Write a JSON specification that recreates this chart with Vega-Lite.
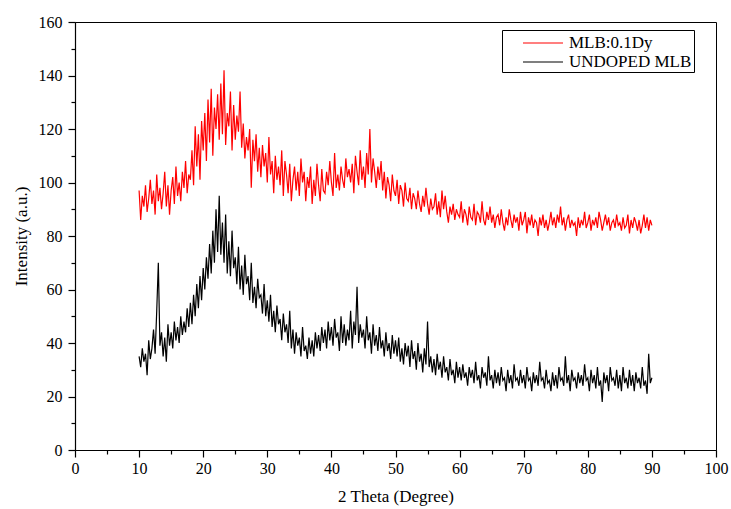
{
  "$schema": "https://vega.github.io/schema/vega-lite/v6.json",
  "width": 641,
  "height": 428,
  "autosize": {"type": "none"},
  "padding": {"left": 75, "top": 22, "right": 15, "bottom": 59},
  "config": {
    "view": {"stroke": "black", "strokeWidth": 1},
    "font": "Liberation Serif",
    "axis": {
      "labelFont": "Liberation Serif", "titleFont": "Liberation Serif",
      "labelFontSize": 16, "titleFontSize": 17, "titleFontWeight": "normal",
      "labelColor": "black", "titleColor": "black",
      "domainColor": "black", "tickColor": "black", "grid": false,
      "domainWidth": 1.2, "tickWidth": 1.2
    },
    "legend": {"labelFont": "Liberation Serif", "labelFontSize": 17, "labelColor": "black"}
  },
  "data": {"values": [
{"t":10,"r":97,"b":35},{"t":10.25,"r":86,"b":31},{"t":10.5,"r":95,"b":38},{"t":10.75,"r":91,"b":33},
{"t":11,"r":99,"b":36},{"t":11.25,"r":89,"b":28},{"t":11.5,"r":94,"b":41},{"t":11.75,"r":101,"b":34},
{"t":12,"r":92,"b":38},{"t":12.25,"r":97,"b":45},{"t":12.5,"r":88,"b":36},{"t":12.75,"r":103,"b":52},
{"t":13,"r":93,"b":70},{"t":13.25,"r":98,"b":39},{"t":13.5,"r":90,"b":44},{"t":13.75,"r":96,"b":35},
{"t":14,"r":104,"b":42},{"t":14.25,"r":91,"b":33},{"t":14.5,"r":99,"b":47},{"t":14.75,"r":88,"b":39},
{"t":15,"r":97,"b":44},{"t":15.25,"r":102,"b":38},{"t":15.5,"r":92,"b":48},{"t":15.75,"r":106,"b":41},
{"t":16,"r":95,"b":46},{"t":16.25,"r":100,"b":40},{"t":16.5,"r":93,"b":50},{"t":16.75,"r":104,"b":43},
{"t":17,"r":98,"b":48},{"t":17.25,"r":108,"b":44},{"t":17.5,"r":96,"b":53},{"t":17.75,"r":103,"b":46},
{"t":18,"r":101,"b":55},{"t":18.25,"r":112,"b":47},{"t":18.5,"r":99,"b":58},{"t":18.75,"r":121,"b":50},
{"t":19,"r":106,"b":62},{"t":19.25,"r":118,"b":53},{"t":19.5,"r":101,"b":65},{"t":19.75,"r":123,"b":56},
{"t":20,"r":112,"b":68},{"t":20.25,"r":126,"b":60},{"t":20.5,"r":108,"b":72},{"t":20.75,"r":131,"b":64},
{"t":21,"r":115,"b":77},{"t":21.25,"r":135,"b":66},{"t":21.5,"r":110,"b":82},{"t":21.75,"r":128,"b":70},
{"t":22,"r":120,"b":90},{"t":22.25,"r":133,"b":74},{"t":22.5,"r":116,"b":95},{"t":22.75,"r":137,"b":73},
{"t":23,"r":118,"b":85},{"t":23.25,"r":142,"b":70},{"t":23.5,"r":114,"b":88},{"t":23.75,"r":126,"b":66},
{"t":24,"r":121,"b":78},{"t":24.25,"r":134,"b":65},{"t":24.5,"r":112,"b":82},{"t":24.75,"r":129,"b":68},
{"t":25,"r":116,"b":72},{"t":25.25,"r":125,"b":62},{"t":25.5,"r":119,"b":76},{"t":25.75,"r":134,"b":60},
{"t":26,"r":113,"b":69},{"t":26.25,"r":122,"b":58},{"t":26.5,"r":109,"b":73},{"t":26.75,"r":117,"b":62},
{"t":27,"r":112,"b":65},{"t":27.25,"r":120,"b":56},{"t":27.5,"r":98,"b":70},{"t":27.75,"r":116,"b":55},
{"t":28,"r":108,"b":61},{"t":28.25,"r":118,"b":53},{"t":28.5,"r":104,"b":64},{"t":28.75,"r":113,"b":57},
{"t":29,"r":102,"b":58},{"t":29.25,"r":114,"b":51},{"t":29.5,"r":106,"b":62},{"t":29.75,"r":111,"b":50},
{"t":30,"r":100,"b":56},{"t":30.25,"r":117,"b":48},{"t":30.5,"r":103,"b":58},{"t":30.75,"r":108,"b":46},
{"t":31,"r":96,"b":52},{"t":31.25,"r":110,"b":44},{"t":31.5,"r":101,"b":54},{"t":31.75,"r":106,"b":47},
{"t":32,"r":99,"b":49},{"t":32.25,"r":112,"b":41},{"t":32.5,"r":95,"b":51},{"t":32.75,"r":108,"b":44},
{"t":33,"r":103,"b":47},{"t":33.25,"r":96,"b":40},{"t":33.5,"r":107,"b":52},{"t":33.75,"r":93,"b":38},
{"t":34,"r":101,"b":45},{"t":34.25,"r":106,"b":36},{"t":34.5,"r":97,"b":44},{"t":34.75,"r":104,"b":39},
{"t":35,"r":95,"b":42},{"t":35.25,"r":109,"b":35},{"t":35.5,"r":100,"b":46},{"t":35.75,"r":104,"b":37},
{"t":36,"r":93,"b":39},{"t":36.25,"r":102,"b":34},{"t":36.5,"r":98,"b":42},{"t":36.75,"r":106,"b":36},
{"t":37,"r":92,"b":41},{"t":37.25,"r":101,"b":35},{"t":37.5,"r":95,"b":44},{"t":37.75,"r":107,"b":38},
{"t":38,"r":99,"b":43},{"t":38.25,"r":93,"b":37},{"t":38.5,"r":105,"b":46},{"t":38.75,"r":97,"b":40},
{"t":39,"r":96,"b":45},{"t":39.25,"r":104,"b":38},{"t":39.5,"r":99,"b":48},{"t":39.75,"r":108,"b":41},
{"t":40,"r":100,"b":46},{"t":40.25,"r":95,"b":39},{"t":40.5,"r":111,"b":49},{"t":40.75,"r":98,"b":42},
{"t":41,"r":103,"b":44},{"t":41.25,"r":97,"b":37},{"t":41.5,"r":106,"b":50},{"t":41.75,"r":101,"b":40},
{"t":42,"r":98,"b":47},{"t":42.25,"r":109,"b":39},{"t":42.5,"r":102,"b":45},{"t":42.75,"r":105,"b":41},
{"t":43,"r":100,"b":52},{"t":43.25,"r":107,"b":38},{"t":43.5,"r":96,"b":48},{"t":43.75,"r":110,"b":43},
{"t":44,"r":104,"b":61},{"t":44.25,"r":99,"b":40},{"t":44.5,"r":112,"b":47},{"t":44.75,"r":101,"b":42},
{"t":45,"r":106,"b":45},{"t":45.25,"r":98,"b":38},{"t":45.5,"r":111,"b":50},{"t":45.75,"r":103,"b":41},
{"t":46,"r":120,"b":44},{"t":46.25,"r":100,"b":36},{"t":46.5,"r":109,"b":47},{"t":46.75,"r":104,"b":39},
{"t":47,"r":98,"b":43},{"t":47.25,"r":106,"b":37},{"t":47.5,"r":101,"b":46},{"t":47.75,"r":108,"b":38},
{"t":48,"r":97,"b":41},{"t":48.25,"r":104,"b":35},{"t":48.5,"r":94,"b":44},{"t":48.75,"r":102,"b":37},
{"t":49,"r":99,"b":40},{"t":49.25,"r":93,"b":34},{"t":49.5,"r":103,"b":43},{"t":49.75,"r":97,"b":36},
{"t":50,"r":95,"b":41},{"t":50.25,"r":101,"b":35},{"t":50.5,"r":92,"b":42},{"t":50.75,"r":99,"b":33},
{"t":51,"r":97,"b":38},{"t":51.25,"r":91,"b":32},{"t":51.5,"r":100,"b":40},{"t":51.75,"r":94,"b":35},
{"t":52,"r":93,"b":39},{"t":52.25,"r":98,"b":31},{"t":52.5,"r":90,"b":41},{"t":52.75,"r":96,"b":34},
{"t":53,"r":94,"b":37},{"t":53.25,"r":90,"b":30},{"t":53.5,"r":97,"b":40},{"t":53.75,"r":92,"b":33},
{"t":54,"r":89,"b":36},{"t":54.25,"r":95,"b":29},{"t":54.5,"r":91,"b":38},{"t":54.75,"r":98,"b":32},
{"t":55,"r":92,"b":48},{"t":55.25,"r":88,"b":31},{"t":55.5,"r":94,"b":35},{"t":55.75,"r":90,"b":29},
{"t":56,"r":91,"b":34},{"t":56.25,"r":96,"b":28},{"t":56.5,"r":88,"b":36},{"t":56.75,"r":93,"b":30},
{"t":57,"r":87,"b":33},{"t":57.25,"r":97,"b":27},{"t":57.5,"r":90,"b":35},{"t":57.75,"r":95,"b":29},
{"t":58,"r":89,"b":31},{"t":58.25,"r":85,"b":26},{"t":58.5,"r":91,"b":34},{"t":58.75,"r":88,"b":28},
{"t":59,"r":92,"b":30},{"t":59.25,"r":86,"b":25},{"t":59.5,"r":90,"b":33},{"t":59.75,"r":88,"b":27},
{"t":60,"r":87,"b":31},{"t":60.25,"r":93,"b":26},{"t":60.5,"r":85,"b":32},{"t":60.75,"r":90,"b":27},
{"t":61,"r":88,"b":29},{"t":61.25,"r":84,"b":24},{"t":61.5,"r":91,"b":31},{"t":61.75,"r":87,"b":27},
{"t":62,"r":86,"b":30},{"t":62.25,"r":92,"b":25},{"t":62.5,"r":84,"b":33},{"t":62.75,"r":89,"b":26},
{"t":63,"r":88,"b":28},{"t":63.25,"r":85,"b":23},{"t":63.5,"r":93,"b":31},{"t":63.75,"r":86,"b":27},
{"t":64,"r":84,"b":29},{"t":64.25,"r":89,"b":24},{"t":64.5,"r":86,"b":35},{"t":64.75,"r":91,"b":26},
{"t":65,"r":85,"b":28},{"t":65.25,"r":88,"b":23},{"t":65.5,"r":83,"b":30},{"t":65.75,"r":87,"b":25},
{"t":66,"r":88,"b":29},{"t":66.25,"r":84,"b":24},{"t":66.5,"r":90,"b":31},{"t":66.75,"r":85,"b":26},
{"t":67,"r":82,"b":27},{"t":67.25,"r":87,"b":22},{"t":67.5,"r":84,"b":30},{"t":67.75,"r":90,"b":25},
{"t":68,"r":86,"b":28},{"t":68.25,"r":83,"b":23},{"t":68.5,"r":88,"b":32},{"t":68.75,"r":85,"b":26},
{"t":69,"r":87,"b":27},{"t":69.25,"r":82,"b":24},{"t":69.5,"r":89,"b":30},{"t":69.75,"r":84,"b":25},
{"t":70,"r":86,"b":28},{"t":70.25,"r":89,"b":23},{"t":70.5,"r":81,"b":31},{"t":70.75,"r":87,"b":26},
{"t":71,"r":84,"b":27},{"t":71.25,"r":88,"b":22},{"t":71.5,"r":83,"b":29},{"t":71.75,"r":86,"b":25},
{"t":72,"r":85,"b":28},{"t":72.25,"r":80,"b":24},{"t":72.5,"r":87,"b":33},{"t":72.75,"r":84,"b":26},
{"t":73,"r":88,"b":27},{"t":73.25,"r":83,"b":23},{"t":73.5,"r":86,"b":30},{"t":73.75,"r":82,"b":25},
{"t":74,"r":85,"b":26},{"t":74.25,"r":89,"b":22},{"t":74.5,"r":84,"b":29},{"t":74.75,"r":87,"b":24},
{"t":75,"r":83,"b":28},{"t":75.25,"r":88,"b":23},{"t":75.5,"r":85,"b":31},{"t":75.75,"r":91,"b":26},
{"t":76,"r":84,"b":27},{"t":76.25,"r":87,"b":24},{"t":76.5,"r":82,"b":35},{"t":76.75,"r":86,"b":25},
{"t":77,"r":88,"b":28},{"t":77.25,"r":83,"b":22},{"t":77.5,"r":86,"b":30},{"t":77.75,"r":84,"b":26},
{"t":78,"r":85,"b":27},{"t":78.25,"r":80,"b":23},{"t":78.5,"r":87,"b":29},{"t":78.75,"r":83,"b":25},
{"t":79,"r":86,"b":28},{"t":79.25,"r":84,"b":24},{"t":79.5,"r":89,"b":32},{"t":79.75,"r":83,"b":26},
{"t":80,"r":85,"b":27},{"t":80.25,"r":88,"b":22},{"t":80.5,"r":82,"b":30},{"t":80.75,"r":86,"b":25},
{"t":81,"r":84,"b":28},{"t":81.25,"r":87,"b":23},{"t":81.5,"r":83,"b":31},{"t":81.75,"r":89,"b":24},
{"t":82,"r":86,"b":26},{"t":82.25,"r":82,"b":18},{"t":82.5,"r":85,"b":29},{"t":82.75,"r":88,"b":25},
{"t":83,"r":84,"b":28},{"t":83.25,"r":87,"b":22},{"t":83.5,"r":82,"b":31},{"t":83.75,"r":85,"b":26},
{"t":84,"r":86,"b":27},{"t":84.25,"r":83,"b":24},{"t":84.5,"r":88,"b":30},{"t":84.75,"r":84,"b":23},
{"t":85,"r":85,"b":28},{"t":85.25,"r":82,"b":22},{"t":85.5,"r":87,"b":31},{"t":85.75,"r":83,"b":25},
{"t":86,"r":84,"b":27},{"t":86.25,"r":88,"b":23},{"t":86.5,"r":81,"b":30},{"t":86.75,"r":86,"b":24},
{"t":87,"r":83,"b":28},{"t":87.25,"r":87,"b":22},{"t":87.5,"r":85,"b":29},{"t":87.75,"r":82,"b":25},
{"t":88,"r":86,"b":27},{"t":88.25,"r":81,"b":23},{"t":88.5,"r":84,"b":31},{"t":88.75,"r":88,"b":24},
{"t":89,"r":83,"b":26},{"t":89.25,"r":87,"b":21},{"t":89.5,"r":82,"b":36},{"t":89.75,"r":86,"b":25},
{"t":90,"r":84,"b":27}
  ]},
  "transform": [
    {"fold": ["r", "b"], "as": ["k", "v"]},
    {"calculate": "datum.k === 'r' ? 'MLB:0.1Dy' : 'UNDOPED MLB'", "as": "series"}
  ],
  "mark": {"type": "line", "strokeWidth": 1.2, "interpolate": "linear"},
  "encoding": {
    "x": {
      "field": "t", "type": "quantitative",
      "scale": {"domain": [0, 100], "nice": false},
      "axis": {
        "title": "2 Theta (Degree)",
        "values": [0,5,10,15,20,25,30,35,40,45,50,55,60,65,70,75,80,85,90,95,100],
        "labelExpr": "datum.value % 10 === 0 ? datum.label : ''",
        "tickSize": {"condition": {"test": "datum.value % 10 === 0", "value": 7}, "value": 4},
        "labelPadding": 3, "titlePadding": 12, "labelFlush": false
      }
    },
    "y": {
      "field": "v", "type": "quantitative",
      "scale": {"domain": [0, 160], "nice": false},
      "axis": {
        "title": "Intensity (a.u.)",
        "values": [0,10,20,30,40,50,60,70,80,90,100,110,120,130,140,150,160],
        "labelExpr": "datum.value % 20 === 0 ? datum.label : ''",
        "tickSize": {"condition": {"test": "datum.value % 20 === 0", "value": 7}, "value": 4},
        "labelPadding": 6, "titlePadding": 8, "labelFlush": false
      }
    },
    "color": {
      "field": "series", "type": "nominal",
      "scale": {"domain": ["MLB:0.1Dy", "UNDOPED MLB"], "range": ["#ff0000", "#000000"]},
      "legend": {
        "title": null, "orient": "none", "legendX": 427, "legendY": 8,
        "symbolType": "M-2,0L2,0", "symbolSize": 400, "symbolStrokeWidth": 1.2,
        "symbolOffset": 28, "labelOffset": 15,
        "strokeColor": "black", "padding": 2, "rowPadding": 0,
        "labelFontSize": 17
      }
    }
  }
}
